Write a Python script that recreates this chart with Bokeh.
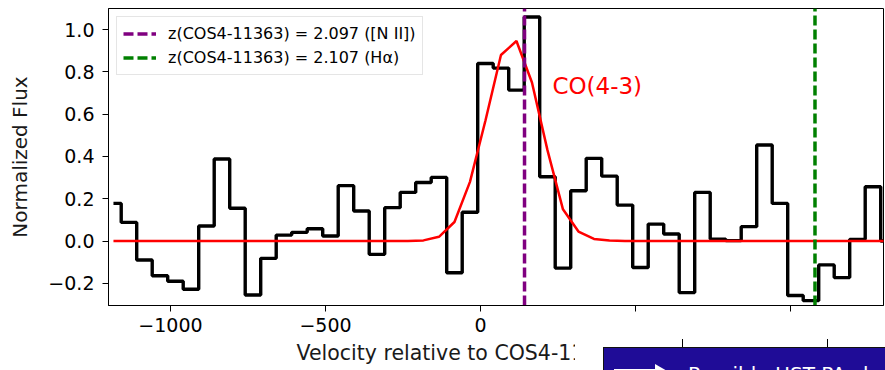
from bokeh.plotting import figure
from bokeh.models import Range1d, FixedTicker, CustomJSTickFormatter, Label, Div
from bokeh.layouts import column
from bokeh.embed import file_html
from bokeh.resources import INLINE

# ---- data ----
velocity = [-1184, -1134, -1084, -1034, -984, -934, -884, -834, -784, -734,
            -684, -634, -584, -534, -484, -434, -384, -334, -284, -234,
            -184, -134, -84, -34, 16, 66, 116, 166, 216, 266,
            316, 366, 416, 466, 516, 566, 616, 666, 716, 766,
            816, 866, 916, 966, 1016, 1066, 1116, 1166, 1216, 1266, 1316]
flux = [0.178, 0.088, -0.090, -0.164, -0.190, -0.228, 0.071, 0.388, 0.155, -0.255,
        -0.082, 0.028, 0.041, 0.058, 0.024, 0.262, 0.142, -0.063, 0.158, 0.230,
        0.277, 0.301, -0.150, 0.136, 0.840, 0.818, 0.714, 1.060, 0.304, -0.128,
        0.238, 0.391, 0.307, 0.170, -0.125, 0.080, 0.033, -0.244, 0.230, 0.009,
        0.002, 0.068, 0.454, 0.178, -0.258, -0.282, -0.113, -0.173, 0.008, 0.257, 0.000]
fit = [0.0, 0.0, 0.0, 0.0, 0.0, 0.0, 0.0, 0.0, 0.0, 0.0,
       0.0, 0.0, 0.0, 0.0, 0.0, 0.0, 0.0, 0.0, 0.0, 0.0,
       0.003, 0.020, 0.090, 0.280, 0.570, 0.880, 0.946, 0.750, 0.430, 0.150,
       0.045, 0.010, 0.002, 0.0, 0.0, 0.0, 0.0, 0.0, 0.0, 0.0,
       0.0, 0.0, 0.0, 0.0, 0.0, 0.0, 0.0, 0.0, 0.0, 0.0, 0.0]
nii_velocity = [142]
ha_velocity = [1079]
nii_label = "z(COS4-11363) = 2.097 ([N II])"
ha_label = "z(COS4-11363) = 2.107 (Hα)"
line_label = "CO(4-3)"
line_label_pos = (232, 0.735)
x_ticks = [-1000, -500, 0, 500, 1000]
y_ticks = [-0.2, 0.0, 0.2, 0.4, 0.6, 0.8, 1.0]
x_lim = (-1200, 1300)
y_lim = (-0.305, 1.10)
panel_text = "Possible HST PA change"

FONT = "DejaVu Sans"

p = figure(width=885, height=370, output_backend="svg", toolbar_location=None,
           x_range=Range1d(*x_lim), y_range=Range1d(*y_lim),
           min_border_left=108, min_border_right=2, min_border_top=8,
           min_border_bottom=65)
p.grid.visible = False
p.outline_line_color = "black"
p.outline_line_width = 1
p.background_fill_color = "white"
p.border_fill_color = "white"

p.step(x=velocity, y=flux, mode="center", line_color="black", line_width=3.4)
p.line(x=velocity, y=fit, line_color="red", line_width=2.5)
p.segment(x0=nii_velocity, x1=nii_velocity, y0=[y_lim[0]], y1=[y_lim[1]],
          line_color="purple", line_width=3.5, line_dash="10 4",
          legend_label=nii_label)
p.segment(x0=ha_velocity, x1=ha_velocity, y0=[y_lim[0]], y1=[y_lim[1]],
          line_color="green", line_width=3.5, line_dash="10 4",
          legend_label=ha_label)

p.add_layout(Label(x=line_label_pos[0], y=line_label_pos[1], text=line_label,
                   text_color="red", text_font_size="23px", text_font=FONT,
                   text_baseline="middle"))

# axes
p.xaxis.ticker = FixedTicker(ticks=x_ticks)
p.yaxis.ticker = FixedTicker(ticks=y_ticks)
p.xaxis.formatter = CustomJSTickFormatter(code="return tick.toFixed(0).replace('-', '\u2212');")
p.yaxis.formatter = CustomJSTickFormatter(code="return tick.toFixed(1).replace('-', '\u2212');")
for ax in (p.xaxis, p.yaxis):
    ax.axis_line_color = "black"
    ax.major_tick_line_color = "black"
    ax.major_tick_out = 6
    ax.major_tick_in = 0
    ax.minor_tick_out = 0
    ax.minor_tick_in = 0
    ax.major_label_text_font = FONT
    ax.major_label_text_font_size = "19px"
    ax.major_label_text_color = "black"
    ax.axis_label_text_font = FONT
    ax.axis_label_text_font_style = "normal"
    ax.axis_label_text_color = "#1a1a1a"
p.xaxis.axis_label_text_font_size = "20.5px"
p.yaxis.axis_label_text_font_size = "20px"
p.xaxis.axis_label = "Velocity relative to COS4-11363 (km/s)"
p.yaxis.axis_label = "Normalized Flux"
p.xaxis.major_label_standoff = 6
p.xaxis.axis_label_standoff = 6
p.yaxis.major_label_standoff = 8
p.yaxis.axis_label_standoff = 13

# legend
lg = p.legend[0]
lg.location = "top_left"
lg.margin = 8
lg.padding = 6
lg.spacing = 3
lg.label_height = 21
lg.glyph_width = 33
lg.glyph_height = 21
lg.label_standoff = 12
lg.label_text_font = FONT
lg.label_text_font_size = "16px"
lg.label_text_color = "black"
lg.border_line_color = "#cccccc"
lg.border_line_width = 1
lg.background_fill_alpha = 0.8

# pasted-over panel at the bottom right of the picture
panel_html = f"""
<div style="position:relative;width:310px;height:57px;background:#ffffff;overflow:hidden;font-family:'DejaVu Sans';">
  <div style="position:absolute;left:107px;top:26px;width:1px;height:8px;background:#000;"></div>
  <div style="position:absolute;left:252px;top:26px;width:1px;height:8px;background:#000;"></div>
  <div style="position:absolute;left:28px;top:34px;width:300px;height:40px;background:#1f0c97;
              border-top:1.5px solid #111;border-left:1.5px solid #111;overflow:hidden;">
    <div style="position:absolute;left:10px;top:21px;width:42px;height:10px;background:#fff;"></div>
    <div style="position:absolute;left:51px;top:16px;width:0;height:0;border-left:26px solid #fff;
                border-top:15px solid transparent;border-bottom:15px solid transparent;"></div>
    <div style="position:absolute;left:84px;top:14px;color:#fff;font-size:20px;white-space:nowrap;
                line-height:24px;">{panel_text}</div>
  </div>
</div>
"""
panel = Div(text=panel_html, width=310, height=57,
            styles={"position": "absolute", "left": "575px", "top": "313px",
                    "z-index": "10", "margin": "0", "padding": "0"})

layout = column(p, panel)
open("out.html", "w", encoding="utf-8").write(file_html(layout, INLINE))
